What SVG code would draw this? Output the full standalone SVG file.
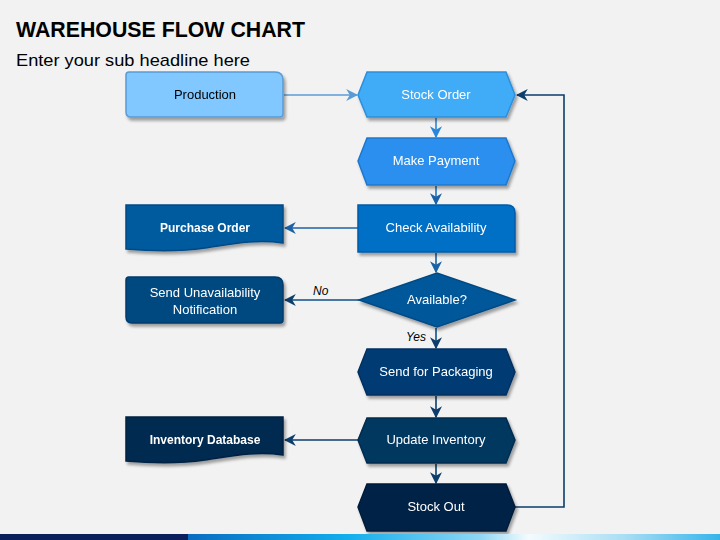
<svg xmlns="http://www.w3.org/2000/svg" width="720" height="540" viewBox="0 0 720 540">
<defs>
<style>
.t{font-family:"Liberation Sans","DejaVu Sans",sans-serif;font-size:13px;fill:#fff;text-anchor:middle}
.b{font-weight:bold;font-size:12px}
.lbl{font-family:"Liberation Sans","DejaVu Sans",sans-serif;font-size:12px;font-style:italic;fill:#000}
.c{fill:none;stroke-width:1.6}
</style>
<filter id="sh" x="-10%" y="-20%" width="130%" height="150%">
<feDropShadow dx="2" dy="3" stdDeviation="1.5" flood-color="#000" flood-opacity="0.35"/>
</filter>
<marker id="a1" markerUnits="userSpaceOnUse" markerWidth="12" markerHeight="12" viewBox="0 0 10 10" refX="9" refY="5" orient="auto"><path d="M0,0 L10,5 L0,10 L3,5 Z" fill="#5B9BD5"/></marker>
<marker id="a2" markerUnits="userSpaceOnUse" markerWidth="12" markerHeight="12" viewBox="0 0 10 10" refX="9" refY="5" orient="auto"><path d="M0,0 L10,5 L0,10 L3,5 Z" fill="#2A86D8"/></marker>
<marker id="a3" markerUnits="userSpaceOnUse" markerWidth="12" markerHeight="12" viewBox="0 0 10 10" refX="9" refY="5" orient="auto"><path d="M0,0 L10,5 L0,10 L3,5 Z" fill="#1A62A6"/></marker>
<marker id="a4" markerUnits="userSpaceOnUse" markerWidth="12" markerHeight="12" viewBox="0 0 10 10" refX="9" refY="5" orient="auto"><path d="M0,0 L10,5 L0,10 L3,5 Z" fill="#0C3D6B"/></marker>
<linearGradient id="bar" x1="0" y1="0" x2="1" y2="0">
<stop offset="0" stop-color="#0A6CC0"/>
<stop offset="0.3" stop-color="#12AEEC"/>
<stop offset="0.55" stop-color="#8FD7F4"/>
<stop offset="0.64" stop-color="#F4FBFE"/>
<stop offset="0.82" stop-color="#A9DEF4"/>
<stop offset="1" stop-color="#36B4EA"/>
</linearGradient>
</defs>
<rect width="720" height="540" fill="#F2F2F2"/>
<text x="16" y="37" font-family="'Liberation Sans',sans-serif" font-weight="bold" font-size="22" textLength="289" lengthAdjust="spacingAndGlyphs" fill="#000">WAREHOUSE FLOW CHART</text>
<text x="16" y="66" font-family="'Liberation Sans',sans-serif" font-size="17" textLength="234" lengthAdjust="spacingAndGlyphs" fill="#000">Enter your sub headline here</text>

<g id="connectors">
<path class="c" d="M284,95 H357" stroke="#5B9BD5" marker-end="url(#a1)"/>
<path class="c" d="M436,118 V137" stroke="#2A86D8" marker-end="url(#a2)"/>
<path class="c" d="M436,186 V204" stroke="#1E74C4" marker-end="url(#a3)"/>
<path class="c" d="M358,228 H285" stroke="#1A62A6" marker-end="url(#a3)"/>
<path class="c" d="M436,253 V272" stroke="#1A62A6" marker-end="url(#a3)"/>
<path class="c" d="M359,300 H285" stroke="#0E4F87" marker-end="url(#a4)"/>
<path class="c" d="M436,328 V348" stroke="#0E4F87" marker-end="url(#a4)"/>
<path class="c" d="M436,396 V417" stroke="#0C3D6B" marker-end="url(#a4)"/>
<path class="c" d="M358,440 H285" stroke="#0C3D6B" marker-end="url(#a4)"/>
<path class="c" d="M436,464 V483" stroke="#0C3D6B" marker-end="url(#a4)"/>
<path class="c" d="M515,507 H564 V95 H517" stroke="#0C3D6B" marker-end="url(#a4)"/>
<text class="lbl" x="313" y="295">No</text>
<text class="lbl" x="406" y="341">Yes</text>
</g>

<g id="production" filter="url(#sh)">
<path d="M129,72 H275 Q283,72 283,80 V114 Q283,117 280,117 H131 Q126,117 126,112 V75 Q126,72 129,72 Z" fill="#80C8FF" stroke="#5B9BD5" stroke-width="1.5"/>
<text class="t" x="205" y="99" style="fill:#000">Production</text>
</g>
<g id="stock-order" filter="url(#sh)">
<polygon points="358,95 367,72 506,72 515,95 506,117 367,117" fill="#3FABF7" stroke="#2E8FDA" stroke-width="1.5"/>
<text class="t" x="436" y="99">Stock Order</text>
</g>
<g id="make-payment" filter="url(#sh)">
<polygon points="358,161 367,138 506,138 515,161 506,185 367,185" fill="#2A8FEF" stroke="#1F78CC" stroke-width="1.5"/>
<text class="t" x="436" y="165">Make Payment</text>
</g>
<g id="check-availability" filter="url(#sh)">
<path d="M358,205 H507 Q515,205 515,213 V252 H358 Z" fill="#0070C6" stroke="#005CA8" stroke-width="1.5"/>
<text class="t" x="436" y="232">Check Availability</text>
</g>
<g id="purchase-order" filter="url(#sh)">
<path d="M126,205 H283 V243 C255,239 232,244 205,248 C178,252 150,251 126,249 Z" fill="#005A9E" stroke="#004A85" stroke-width="1.5"/>
<text class="t b" x="205" y="232">Purchase Order</text>
</g>
<g id="available" filter="url(#sh)">
<polygon points="359,300 437,273 515,300 437,327" fill="#04589A" stroke="#034A84" stroke-width="1.5"/>
<text class="t" x="437" y="304">Available?</text>
</g>
<g id="send-unavailability" filter="url(#sh)">
<path d="M129,277 H275 Q283,277 283,285 V320 Q283,323 280,323 H132 Q126,323 126,317 V280 Q126,277 129,277 Z" fill="#004A80" stroke="#003B6A" stroke-width="1.5"/>
<text class="t" x="205" y="297">Send Unavailability</text>
<text class="t" x="205" y="314">Notification</text>
</g>
<g id="send-packaging" filter="url(#sh)">
<polygon points="358,372 367,349 506,349 515,372 506,395 367,395" fill="#013B73" stroke="#013061" stroke-width="1.5"/>
<text class="t" x="436" y="376">Send for Packaging</text>
</g>
<g id="update-inventory" filter="url(#sh)">
<polygon points="358,440 367,418 506,418 515,440 506,463 367,463" fill="#02375F" stroke="#012D50" stroke-width="1.5"/>
<text class="t" x="436" y="444">Update Inventory</text>
</g>
<g id="inventory-database" filter="url(#sh)">
<path d="M126,417 H283 V455 C255,451 232,456 205,460 C178,464 150,463 126,461 Z" fill="#002A50" stroke="#002242" stroke-width="1.5"/>
<text class="t b" x="205" y="444">Inventory Database</text>
</g>
<g id="stock-out" filter="url(#sh)">
<polygon points="358,507 367,484 506,484 515,507 506,531 367,531" fill="#002347" stroke="#001C3A" stroke-width="1.5"/>
<text class="t" x="436" y="511">Stock Out</text>
</g>

<rect x="0" y="534" width="188" height="6" fill="#0B1F5C"/>
<rect x="188" y="534" width="532" height="6" fill="url(#bar)"/>
</svg>
